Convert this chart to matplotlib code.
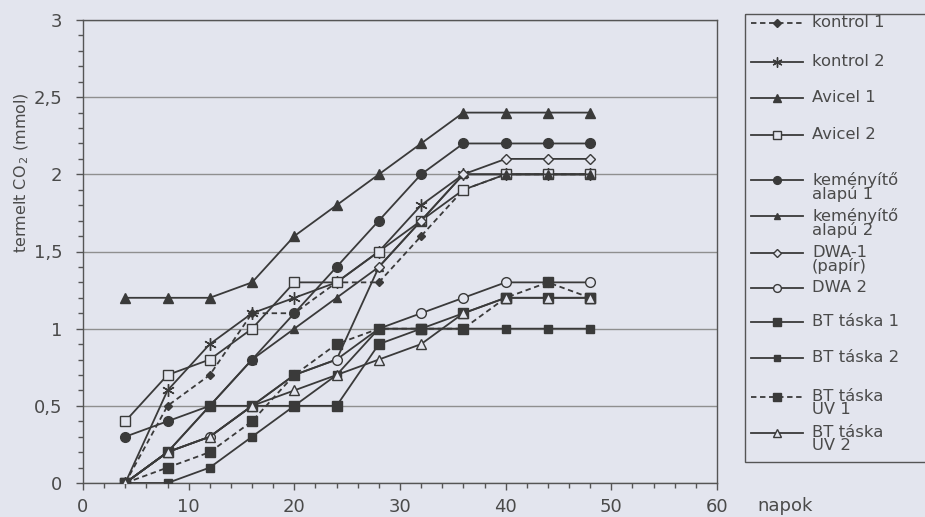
import matplotlib
matplotlib.use("Agg")
import matplotlib.pyplot as plt
from matplotlib.lines import Line2D
from matplotlib.patches import Rectangle
from matplotlib.ticker import MultipleLocator, FuncFormatter

plt.rcParams['font.family'] = ['DejaVu Sans']

# ---- data ----
napok = [4, 8, 12, 16, 20, 24, 28, 32, 36, 40, 44, 48]
kontrol_1 = [0, 0.5, 0.7, 1.1, 1.1, 1.3, 1.3, 1.6, 1.9, 2.0, 2.0, 2.0]
kontrol_2 = [0, 0.6, 0.9, 1.1, 1.2, 1.3, 1.5, 1.8, 2.0, 2.0, 2.0, 2.0]
avicel_1 = [1.2, 1.2, 1.2, 1.3, 1.6, 1.8, 2.0, 2.2, 2.4, 2.4, 2.4, 2.4]
avicel_2 = [0.4, 0.7, 0.8, 1.0, 1.3, 1.3, 1.5, 1.7, 1.9, 2.0, 2.0, 2.0]
kemenyito_1 = [0.3, 0.4, 0.5, 0.8, 1.1, 1.4, 1.7, 2.0, 2.2, 2.2, 2.2, 2.2]
kemenyito_2 = [0, 0.2, 0.5, 0.8, 1.0, 1.2, 1.4, 1.7, 2.0, 2.0, 2.0, 2.0]
dwa_1 = [0, 0.2, 0.3, 0.5, 0.7, 0.8, 1.4, 1.7, 2.0, 2.1, 2.1, 2.1]
dwa_2 = [0, 0.2, 0.3, 0.5, 0.7, 0.8, 1.0, 1.1, 1.2, 1.3, 1.3, 1.3]
bt_1 = [0, 0.2, 0.5, 0.5, 0.5, 0.5, 0.9, 1.0, 1.1, 1.2, 1.2, 1.2]
bt_2 = [0, 0, 0.1, 0.3, 0.5, 0.7, 1.0, 1.0, 1.0, 1.0, 1.0, 1.0]
bt_uv_1 = [0, 0.1, 0.2, 0.4, 0.7, 0.9, 1.0, 1.0, 1.0, 1.2, 1.3, 1.2]
bt_uv_2 = [0, 0.2, 0.3, 0.5, 0.6, 0.7, 0.8, 0.9, 1.1, 1.2, 1.2, 1.2]

labels = ["kontrol 1", "kontrol 2", "Avicel 1", "Avicel 2",
          "keményítő\nalapú 1", "keményítő\nalapú 2", "DWA-1\n(papír)",
          "DWA 2", "BT táska 1", "BT táska 2", "BT táska\nUV 1", "BT táska\nUV 2"]
series = [kontrol_1, kontrol_2, avicel_1, avicel_2, kemenyito_1, kemenyito_2,
          dwa_1, dwa_2, bt_1, bt_2, bt_uv_1, bt_uv_2]

BG = '#e3e5ee'
LC = '#3a3a3a'
TC = '#4a4a4a'
ast = (6, 2, 0)
styles = [
    dict(ls=(0, (3, 2)), marker='D', ms=4.5, mfc=LC),
    dict(ls='-', marker=ast, ms=9, mfc=LC),
    dict(ls='-', marker='^', ms=7, mfc=LC),
    dict(ls='-', marker='s', ms=7, mfc=BG),
    dict(ls='-', marker='o', ms=7, mfc=LC),
    dict(ls='-', marker='^', ms=6, mfc=LC),
    dict(ls='-', marker='D', ms=5, mfc=BG),
    dict(ls='-', marker='o', ms=7, mfc=BG),
    dict(ls='-', marker='s', ms=7, mfc=LC),
    dict(ls='-', marker='s', ms=6, mfc=LC),
    dict(ls=(0, (3, 2)), marker='s', ms=6.5, mfc=LC),
    dict(ls='-', marker='^', ms=6.5, mfc=BG),
]

W, H = 925, 517
fig = plt.figure(figsize=(W / 100, H / 100), dpi=100, facecolor=BG)
L, R, T, B = 83, 717, 20, 483
ax = fig.add_axes([L / W, 1 - B / H, (R - L) / W, (B - T) / H])
ax.set_facecolor(BG)

for vals, st in zip(series, styles):
    ax.plot(napok, vals, color=LC, lw=1.3, linestyle=st['ls'], marker=st['marker'],
            ms=st['ms'], mfc=st['mfc'], mec=LC, mew=1.0, zorder=3)

ax.set_xlim(0, 60)
ax.set_ylim(0, 3)
ax.yaxis.set_major_locator(MultipleLocator(0.5))
ax.yaxis.set_minor_locator(MultipleLocator(0.1))
ax.xaxis.set_major_locator(MultipleLocator(10))
ax.xaxis.set_minor_locator(MultipleLocator(2))
ax.yaxis.set_major_formatter(FuncFormatter(lambda v, p: ('%g' % v).replace('.', ',')))
ax.grid(axis='y', which='major', color='#8f8f8f', lw=1.0, zorder=1)
for s in ax.spines.values():
    s.set_color('#555555')
    s.set_linewidth(1.0)
ax.tick_params(axis='both', which='both', direction='out', color='#555555',
               labelcolor=TC, labelsize=13)
ax.tick_params(axis='both', which='major', length=5, width=1.0)
ax.tick_params(axis='both', which='minor', length=3.6, width=1.0)
ax.tick_params(axis='y', pad=10)
ax.tick_params(axis='x', pad=6)

fig.text(22 / W, 1 - 173 / H, 'termelt CO$_{\\,2}$ (mmol)', rotation=90,
         ha='center', va='center', fontsize=11.5, color=TC)
fig.text(785 / W, 1 - 506 / H, 'napok', ha='center', va='center',
         fontsize=13, color=TC)

# ---- legend (drawn in pixel coordinates) ----
lax = fig.add_axes([0, 0, 1, 1], facecolor='none')
lax.set_xlim(0, W)
lax.set_ylim(H, 0)
lax.axis('off')
lax.add_patch(Rectangle((745, 14), 200, 448, fill=False, ec='#555555', lw=1.0))
ypos = [23, 62, 98, 135, 180, 216, 253, 288, 322, 358, 397, 433]
for lab, st, y in zip(labels, styles, ypos):
    lax.add_line(Line2D([751, 803], [y, y], color=LC, lw=1.3, linestyle=st['ls']))
    lax.add_line(Line2D([777], [y], color=LC, marker=st['marker'], ms=st['ms'] * 0.8,
                        mfc=st['mfc'], mec=LC, mew=1.0, linestyle='none'))
    lax.text(812, y - 8, lab, ha='left', va='top', fontsize=11.8, color=TC,
             linespacing=0.84)

fig.savefig('out.png', dpi=100, facecolor=BG)
